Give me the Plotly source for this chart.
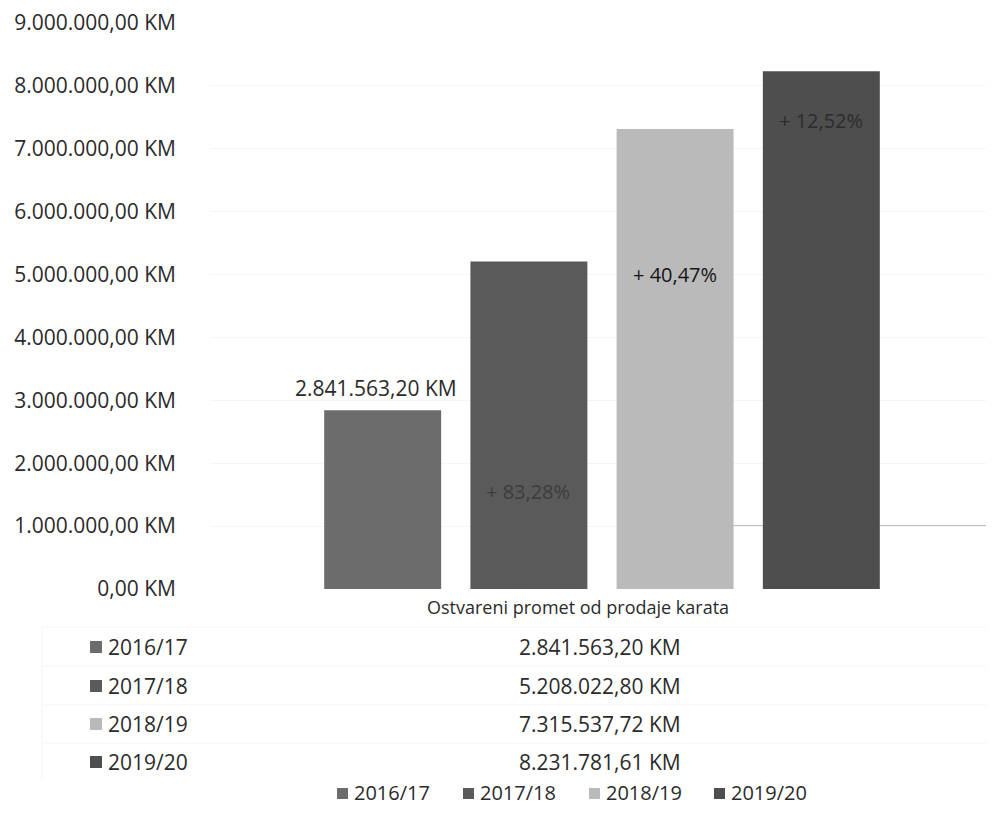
import plotly.graph_objects as go

seasons = ["2016/17", "2017/18", "2018/19", "2019/20"]
values = [2841563.20, 5208022.80, 7315537.72, 8231781.61]
colors = ["#6c6c6c", "#5a5a5a", "#bababa", "#4e4e4e"]
category = "Ostvareni promet od prodaje karata"
growth_labels = ["", "+ 83,28%", "+ 40,47%", "+ 12,52%"]
growth_y = [0, 1550000, 5000000, 7450000]
growth_colors = ["#333", "#3c3c3c", "#151515", "#2c2c2c"]
y_ticks = [0, 1e6, 2e6, 3e6, 4e6, 5e6, 6e6, 7e6, 8e6, 9e6]


def fmt_km(v):
    s = f"{v:,.2f}"
    s = s.replace(",", "X").replace(".", ",").replace("X", ".")
    return s + " KM"


FONT = "Open Sans"
OFF = 8  # page body margin
W, H = 994 - OFF, 827 - OFF
L, R, T = 210 - OFF, 0, 23 - OFF
B = H - (589 - OFF)
pw = W - L - R
ph = H - T - B
TXT = "#2b2b2b"


def px_x(x):
    return (x - OFF - L) / pw


def px_y(y):
    return (H - B - (y - OFF)) / ph


fig = go.Figure()
for s, v, c in zip(seasons, values, colors):
    fig.add_trace(go.Bar(
        x=[category], y=[v], name=s, marker=dict(color=c, line=dict(width=0)),
        hoverinfo="skip", showlegend=False
    ))

annotations = []
shapes = []

# value label above first bar
annotations.append(dict(
    x=px_x(376), y=values[0], xref="paper", yref="y", text=fmt_km(values[0]),
    showarrow=False, xanchor="center", yanchor="bottom", yshift=6,
    font=dict(family=FONT, size=21, color=TXT)))

# growth labels inside bars
bar_centers = [382, 528, 675, 821]
for i in range(1, 4):
    annotations.append(dict(
        x=px_x(bar_centers[i]), y=growth_y[i], xref="paper", yref="y",
        text=growth_labels[i], showarrow=False, xanchor="center", yanchor="middle",
        font=dict(family=FONT, size=20, color=growth_colors[i])))

# category label
annotations.append(dict(
    x=px_x(578), y=px_y(607), xref="paper", yref="paper", text=category,
    showarrow=False, xanchor="center", yanchor="middle",
    font=dict(family=FONT, size=18, color=TXT)))

# data table rows
row_y = [647, 686, 724, 762]
for s, v, c, yy in zip(seasons, values, colors, row_y):
    annotations.append(dict(
        x=px_x(600), y=px_y(yy), xref="paper", yref="paper", text=fmt_km(v),
        showarrow=False, xanchor="center", yanchor="middle",
        font=dict(family=FONT, size=21, color=TXT)))
    annotations.append(dict(
        x=px_x(106), y=px_y(yy), xref="paper", yref="paper", text=s,
        showarrow=False, xanchor="left", yanchor="middle",
        font=dict(family=FONT, size=21, color=TXT)))
    shapes.append(dict(
        type="rect", xref="paper", yref="paper",
        x0=px_x(90), x1=px_x(102), y0=px_y(yy + 6), y1=px_y(yy - 6),
        fillcolor=c, line=dict(width=0)))

# faint table grid lines
for yy in [627, 666, 705, 743]:
    shapes.append(dict(
        type="line", xref="paper", yref="paper",
        x0=px_x(42), x1=1, y0=px_y(yy), y1=px_y(yy),
        line=dict(color="#f4f4f4", width=1)))
shapes.append(dict(
    type="line", xref="paper", yref="paper",
    x0=px_x(42), x1=px_x(42), y0=px_y(627), y1=px_y(780),
    line=dict(color="#f4f4f4", width=1)))

# bottom legend (drawn manually)
leg_x = [337, 463, 589, 714]
leg_y = 793
for s, c, lx in zip(seasons, colors, leg_x):
    shapes.append(dict(
        type="rect", xref="paper", yref="paper",
        x0=px_x(lx), x1=px_x(lx + 11), y0=px_y(leg_y + 6), y1=px_y(leg_y - 5),
        fillcolor=c, line=dict(width=0)))
    annotations.append(dict(
        x=px_x(lx + 15), y=px_y(leg_y), xref="paper", yref="paper", text=s,
        showarrow=False, xanchor="left", yanchor="middle",
        font=dict(family=FONT, size=20, color=TXT)))

# thin line at 1M on right
shapes.append(dict(
    type="line", xref="paper", yref="y", x0=px_x(733), x1=1, y0=1e6, y1=1e6,
    line=dict(color="#5e5e5e", width=1), layer="below"))

fig.update_layout(
    width=W, height=H,
    margin=dict(l=L, r=R, t=T, b=B, pad=0),
    paper_bgcolor="white", plot_bgcolor="white",
    barmode="group", bargap=0.254, bargroupgap=0.2,
    font=dict(family=FONT, size=16, color=TXT),
    xaxis=dict(showticklabels=False, showgrid=False, zeroline=False, showline=False,
               fixedrange=True),
    yaxis=dict(range=[0, 9e6], tickvals=y_ticks, ticktext=[fmt_km(t) for t in y_ticks],
               showgrid=True, gridcolor="#f5f5f5", gridwidth=1, zeroline=False,
               showline=False, ticks="", ticklabelstandoff=33,
               tickfont=dict(family=FONT, size=21, color=TXT)),
    annotations=annotations, shapes=shapes,
    showlegend=False,
)

fig.write_html("out.html")
